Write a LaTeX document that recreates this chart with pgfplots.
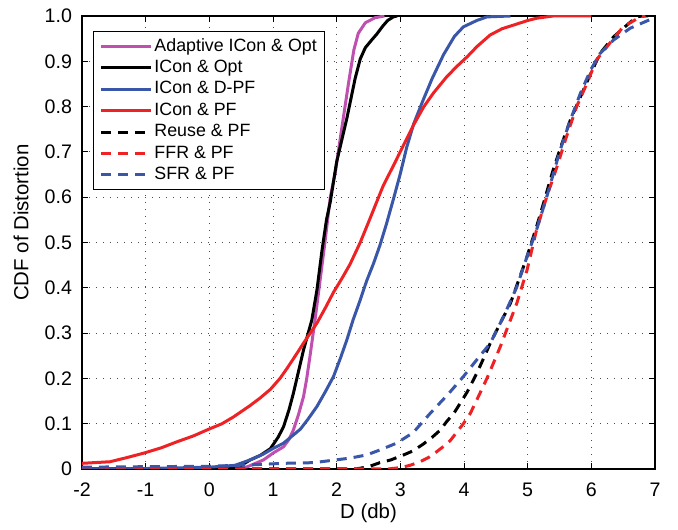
\documentclass[border=0pt]{standalone}
\usepackage{fontspec}
\setmainfont{Liberation Sans}
\usepackage{pgfplots}
\pgfplotsset{compat=1.18}

\definecolor{cmag}{RGB}{191,80,175}
\definecolor{cblue}{RGB}{58,86,168}
\definecolor{cred}{RGB}{238,34,36}

\begin{document}
\begin{tikzpicture}
\begin{axis}[
    scale only axis,
    width=286.5pt, height=226.5pt,
    xmin=-2, xmax=7, ymin=0, ymax=1,
    xtick={-2,-1,0,1,2,3,4,5,6,7},
    ytick={0,0.1,0.2,0.3,0.4,0.5,0.6,0.7,0.8,0.9,1},
    yticklabels={0,0.1,0.2,0.3,0.4,0.5,0.6,0.7,0.8,0.9,1.0},
    /pgf/number format/assume math mode=true,
    tick label style={font=\fontsize{9.8}{11}\selectfont},
    xticklabel style={yshift=-3.5pt},
    yticklabel style={xshift=-1.5pt},
    tick align=inside,
    major tick length=3pt,
    tick style={black, line width=0.5pt},
    axis line style={line width=0.7pt},
    grid=major,
    major grid style={black!70, line width=0.5pt, dash pattern=on 0.6pt off 2.9pt},
    xlabel={D (db)},
    ylabel={CDF of Distortion},
    label style={font=\fontsize{10.2}{12}\selectfont},
    xlabel style={at={(axis description cs:0.5,0)}, anchor=base, yshift=-25pt},
    ylabel style={at={(axis description cs:-0.1065,0.544)}, anchor=center},
    legend cell align=left,
    legend image code/.code={\draw[#1] (0pt,0pt) -- (25pt,0pt);},
    legend style={at={(axis description cs:0,1)}, anchor=north west,
        xshift=5.5pt, yshift=-7.5pt, draw=black, line width=0.5pt,
        font=\fontsize{8.9}{10}\selectfont,
        nodes={text height=6.5pt, text depth=1.9pt, inner sep=1pt},
        inner xsep=3pt, inner ysep=2.3pt, row sep=0.3pt},
    every axis plot/.append style={line width=1.5pt},
]
\coordinate (bl) at (rel axis cs:0,0);
\coordinate (tr) at (rel axis cs:1,1);

% Adaptive ICon & Opt
\addplot[cmag] coordinates {(-2,0) (0.4,0) (0.6,0.005) (0.85,0.02) (1.0,0.035) (1.165,0.049) (1.25,0.065) (1.32,0.086) (1.40,0.12) (1.48,0.16) (1.53,0.20) (1.58,0.248) (1.66,0.329) (1.74,0.417) (1.82,0.505) (1.90,0.60) (1.98,0.656) (2.08,0.752) (2.19,0.855) (2.27,0.925) (2.34,0.962) (2.45,0.985) (2.6,0.996) (2.75,1)};
\addlegendentry{Adaptive ICon \& Opt}

% ICon & Opt
\addplot[black] coordinates {(-2,0) (0.3,0) (0.5,0.008) (0.64,0.02) (0.8,0.03) (0.96,0.045) (1.08,0.07) (1.165,0.093) (1.25,0.13) (1.32,0.167) (1.40,0.215) (1.48,0.263) (1.61,0.329) (1.69,0.395) (1.77,0.483) (1.84,0.55) (1.90,0.59) (2.00,0.678) (2.16,0.774) (2.29,0.862) (2.37,0.905) (2.45,0.93) (2.55,0.947) (2.63,0.96) (2.72,0.977) (2.8,0.99) (2.89,0.998) (2.95,1)};
\addlegendentry{ICon \& Opt}

% ICon & D-PF
\addplot[cblue] coordinates {(-2,0) (-1,0.001) (0,0.004) (0.4,0.008) (0.64,0.02) (0.85,0.033) (1.01,0.046) (1.165,0.057) (1.32,0.075) (1.43,0.088) (1.55,0.11) (1.69,0.138) (1.82,0.17) (1.95,0.204) (2.06,0.245) (2.16,0.285) (2.26,0.33) (2.37,0.373) (2.47,0.415) (2.58,0.454) (2.68,0.494) (2.78,0.54) (2.89,0.595) (3.0,0.652) (3.10,0.71) (3.21,0.762) (3.36,0.815) (3.50,0.862) (3.68,0.915) (3.85,0.955) (3.99,0.976) (4.2,0.99) (4.36,0.998) (4.73,1)};
\addlegendentry{ICon \& D-PF}

% ICon & PF
\addplot[cred] coordinates {(-2,0.0125) (-1.56,0.016) (-1.3,0.025) (-1.03,0.035) (-0.75,0.047) (-0.51,0.060) (-0.25,0.073) (-0.04,0.086) (0.2,0.10) (0.38,0.115) (0.64,0.140) (0.80,0.157) (0.96,0.176) (1.11,0.20) (1.22,0.222) (1.375,0.255) (1.48,0.278) (1.69,0.322) (1.82,0.355) (1.95,0.39) (2.08,0.42) (2.21,0.452) (2.37,0.50) (2.53,0.555) (2.73,0.625) (2.9,0.672) (3.05,0.715) (3.21,0.76) (3.37,0.80) (3.52,0.830) (3.73,0.866) (3.89,0.889) (4.05,0.91) (4.20,0.932) (4.41,0.958) (4.6,0.972) (4.78,0.980) (5.0,0.99) (5.14,0.995) (5.4,1) (6.0,1)};
\addlegendentry{ICon \& PF}

% Reuse & PF
\addplot[black, dash pattern=on 5pt off 3.5pt] coordinates {(-2,0) (2.3,0) (2.5,0.005) (2.68,0.014) (2.85,0.02) (3.05,0.031) (3.2,0.04) (3.36,0.055) (3.5,0.07) (3.62,0.085) (3.73,0.105) (3.85,0.125) (3.94,0.145) (4.05,0.17) (4.20,0.211) (4.31,0.245) (4.41,0.277) (4.57,0.322) (4.73,0.366) (4.88,0.425) (4.99,0.469) (5.14,0.535) (5.25,0.587) (5.40,0.660) (5.54,0.719) (5.67,0.770) (5.83,0.822) (5.99,0.873) (6.14,0.918) (6.35,0.954) (6.56,0.980) (6.71,0.998) (6.8,1) (7,1)};
\addlegendentry{Reuse \& PF}

% FFR & PF
\addplot[cred, dash pattern=on 5pt off 3.5pt] coordinates {(-2,0) (2.8,0) (3.0,0.003) (3.15,0.008) (3.31,0.016) (3.45,0.026) (3.57,0.038) (3.68,0.05) (3.78,0.062) (3.88,0.08) (3.99,0.10) (4.10,0.123) (4.25,0.167) (4.36,0.20) (4.46,0.233) (4.57,0.27) (4.67,0.307) (4.83,0.366) (4.99,0.439) (5.14,0.528) (5.30,0.601) (5.46,0.667) (5.61,0.734) (5.77,0.800) (5.93,0.851) (6.08,0.903) (6.29,0.940) (6.50,0.976) (6.77,0.998) (6.85,1)};
\addlegendentry{FFR \& PF}

% SFR & PF
\addplot[cblue, dash pattern=on 5pt off 3.5pt] coordinates {(-2,0.004) (-1.08,0.005) (0,0.006) (0.64,0.009) (1.165,0.0125) (1.64,0.014) (1.98,0.02) (2.21,0.024) (2.47,0.031) (2.68,0.042) (2.94,0.057) (3.2,0.08) (3.47,0.123) (3.75,0.165) (3.99,0.204) (4.20,0.241) (4.41,0.277) (4.62,0.336) (4.83,0.402) (4.99,0.469) (5.14,0.528) (5.30,0.601) (5.51,0.704) (5.67,0.77) (5.83,0.830) (5.99,0.881) (6.14,0.918) (6.35,0.947) (6.61,0.973) (6.97,0.995) (7,0.996)};
\addlegendentry{SFR \& PF}
\end{axis}
\path ([shift={(-41pt,-28pt)}]bl) rectangle ([shift={(11.5pt,8pt)}]tr);
\end{tikzpicture}
\end{document}
